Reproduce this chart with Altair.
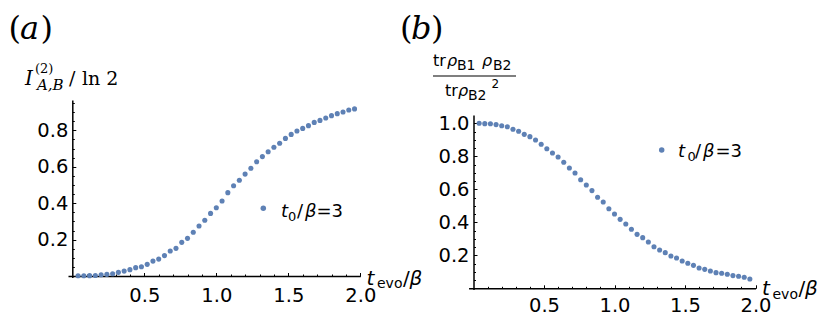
import altair as alt
import pandas as pd

# ---------------- data ----------------
t_evo = [0.04, 0.08, 0.12, 0.16, 0.20, 0.24, 0.28, 0.32, 0.36, 0.40,
         0.44, 0.48, 0.52, 0.56, 0.60, 0.64, 0.68, 0.72, 0.76, 0.80,
         0.84, 0.88, 0.92, 0.96, 1.00, 1.04, 1.08, 1.12, 1.16, 1.20,
         1.24, 1.28, 1.32, 1.36, 1.40, 1.44, 1.48, 1.52, 1.56, 1.60,
         1.64, 1.68, 1.72, 1.76, 1.80, 1.84, 1.88, 1.92, 1.96]

mutual_info = [0.001, 0.001, 0.002, 0.003, 0.007, 0.009, 0.012, 0.020, 0.027, 0.035,
               0.046, 0.051, 0.064, 0.082, 0.093, 0.112, 0.137, 0.152, 0.185, 0.207,
               0.240, 0.275, 0.306, 0.344, 0.375, 0.412, 0.458, 0.496, 0.526, 0.560,
               0.592, 0.628, 0.656, 0.683, 0.707, 0.729, 0.756, 0.778, 0.797, 0.811,
               0.826, 0.844, 0.855, 0.868, 0.881, 0.892, 0.901, 0.912, 0.918]

overlap_ratio = [1.000, 0.998, 0.997, 0.992, 0.985, 0.979, 0.964, 0.952, 0.933, 0.919,
                 0.899, 0.873, 0.846, 0.820, 0.796, 0.764, 0.729, 0.699, 0.658, 0.626,
                 0.592, 0.552, 0.523, 0.482, 0.450, 0.418, 0.390, 0.358, 0.327, 0.307,
                 0.281, 0.252, 0.232, 0.216, 0.196, 0.184, 0.165, 0.152, 0.139, 0.123,
                 0.115, 0.105, 0.095, 0.091, 0.085, 0.077, 0.073, 0.067, 0.056]

x_major = [0.5, 1.0, 1.5, 2.0]
x_minor = [0.1, 0.2, 0.3, 0.4, 0.6, 0.7, 0.8, 0.9, 1.1, 1.2, 1.3, 1.4,
           1.6, 1.7, 1.8, 1.9]
ya_major = [0.2, 0.4, 0.6, 0.8]
ya_minor = [0.05, 0.1, 0.15, 0.25, 0.3, 0.35, 0.45, 0.5, 0.55, 0.65, 0.7,
            0.75, 0.85, 0.9, 0.95]
yb_major = [0.2, 0.4, 0.6, 0.8, 1.0]
yb_minor = [0.05, 0.1, 0.15, 0.25, 0.3, 0.35, 0.45, 0.5, 0.55, 0.65, 0.7,
            0.75, 0.85, 0.9, 0.95]

# ---------------- layout ----------------
W, H = 814, 315
COLOR = "#5E81B5"
SANS = "DejaVu Sans"
SERIF = "DejaVu Serif"
TICK_FS = 19.5

df_a = pd.DataFrame({"t": t_evo, "v": mutual_info})
df_b = pd.DataFrame({"t": t_evo, "v": overlap_ratio})

# panel geometry (inside the chart group)
A = dict(xdom=[-0.03, 2.0], xrng=[60.0, 352.3], ydom=[-0.008, 0.967], yrng=[269.46, 92.0],
         xaxis_y=268.0, yaxis_x=64.3, lab_pad_x=-13.5)
B = dict(xdom=[-0.035, 2.0], xrng=[460.57, 747.5], ydom=[-0.008, 1.05], yrng=[281.62, 107.05],
         xaxis_y=280.3, yaxis_x=465.5, lab_pad_x=-11.5)

MAJ, MIN = 3.5, 2.0


def panel(df, g, ymaj, ymin):
    xs = alt.Scale(domain=g["xdom"], range=g["xrng"], nice=False, zero=False)
    ys = alt.Scale(domain=g["ydom"], range=g["yrng"], nice=False, zero=False)
    xax = alt.Axis(orient="top", offset=-g["xaxis_y"], values=x_major, format=".1f",
                   tickSize=MAJ, tickWidth=1, tickColor="black",
                   domainColor="black", domainWidth=1.5, grid=False, title=None,
                   labelFont=SANS, labelFontSize=TICK_FS, labelColor="black",
                   labelBaseline="top", labelAlign="center", labelPadding=g["lab_pad_x"],
                   labelFlush=False, labelOverlap=False)
    yax = alt.Axis(orient="right", offset=g["yaxis_x"] - W, values=ymaj, format=".1f",
                   tickSize=MAJ, tickWidth=1, tickColor="black",
                   domainColor="black", domainWidth=1.5, grid=False, title=None,
                   labelFont=SANS, labelFontSize=TICK_FS, labelColor="black",
                   labelAlign="right", labelBaseline="middle", labelPadding=-MAJ - 4.5,
                   labelFlush=False, labelOverlap=False)
    pts = alt.Chart(df).mark_circle(size=26, color=COLOR, opacity=1).encode(
        x=alt.X("t:Q", scale=xs, axis=xax),
        y=alt.Y("v:Q", scale=ys, axis=yax),
    )
    xmin = alt.Axis(orient="top", offset=-g["xaxis_y"], values=x_minor, labels=False,
                    domain=False, tickSize=MIN, tickWidth=1, tickColor="black",
                    grid=False, title=None)
    ymin_ax = alt.Axis(orient="right", offset=g["yaxis_x"] - W, values=ymin, labels=False,
                       domain=False, tickSize=MIN, tickWidth=1, tickColor="black",
                       grid=False, title=None)
    minor = alt.Chart(df).mark_circle(size=1, opacity=0).encode(
        x=alt.X("t:Q", scale=xs, axis=xmin),
        y=alt.Y("v:Q", scale=ys, axis=ymin_ax),
    )
    return [pts, minor]


def texts(rows, font, style):
    d = pd.DataFrame([{"s": s, "x": x - 8, "y": y - 8, "fs": fs} for s, x, y, fs in rows])
    return alt.Chart(d).mark_text(align="left", baseline="alphabetic", font=font,
                                  fontStyle=style, color="black").encode(
        x=alt.X("x:Q", scale=None, axis=None),
        y=alt.Y("y:Q", scale=None, axis=None),
        text="s:N",
        size=alt.Size("fs:Q", scale=None, legend=None),
    )


sans_normal = [
    ("0", 288, 220.5, 13), ("/", 297, 216.7, 18), ("=3", 316.5, 216.7, 18),
    ("0", 687.5, 161.0, 13), ("/", 695, 157.3, 18), ("=3", 715.5, 157.3, 18),
    ("evo", 377, 288, 14), ("/", 403, 284.5, 20),
    ("evo", 772.5, 298.5, 14), ("/", 798.5, 294.5, 20),
    ("tr", 433, 66, 16), ("B1", 457, 70, 14), ("B2", 493, 70, 14),
    ("tr", 445, 96, 16), ("B2", 468, 100, 14), ("2", 491.5, 88, 12),
]
sans_italic = [
    ("t", 281, 216.7, 18), ("β", 305, 216.7, 18),
    ("t", 678, 157.3, 18), ("β", 703, 157.3, 18),
    ("t", 366.5, 284.5, 20), ("β", 409.5, 284.5, 20),
    ("t", 762, 294.5, 20), ("β", 805, 294.5, 20),
    ("ρ", 447, 66, 16), ("ρ", 482, 66, 16), ("ρ", 458, 96, 16),
]
serif_normal = [
    ("(", 8.5, 38.5, 32), (")", 40.5, 38.5, 32),
    ("(", 400, 38.5, 32), (")", 431, 38.5, 32),
    ("(2)", 35, 73, 13), ("/", 69, 85, 19), ("ln 2", 82, 85, 19),
]
serif_italic = [
    ("a", 20, 38.5, 32), ("b", 411, 38.5, 32),
    ("I", 25, 85, 20), ("A,B", 37, 90, 15),
]

legend_df = pd.DataFrame({"x": [263.3 - 8, 661.7 - 8], "y": [208.3 - 8, 150.0 - 8]})
legend_dots = alt.Chart(legend_df).mark_circle(size=30, color=COLOR, opacity=1).encode(
    x=alt.X("x:Q", scale=None, axis=None),
    y=alt.Y("y:Q", scale=None, axis=None),
)

frac_rule = alt.Chart(pd.DataFrame({"k": [0]})).mark_rule(color="black", strokeWidth=1.2).encode(
    x=alt.value(433 - 8), x2=alt.value(516 - 8), y=alt.value(76 - 8)
)

layers = (panel(df_a, A, ya_major, ya_minor) + panel(df_b, B, yb_major, yb_minor) +
          [legend_dots, frac_rule,
           texts(sans_normal, SANS, "normal"), texts(sans_italic, SANS, "italic"),
           texts(serif_normal, SERIF, "normal"), texts(serif_italic, SERIF, "italic")])

chart = alt.layer(*layers).resolve_scale(x="independent", y="independent").properties(
    width=W, height=H, padding=0,
    autosize=alt.AutoSizeParams(type="none"),
    background="white",
).configure_view(stroke=None)

chart.save("out.html", embed_options={"renderer": "svg", "actions": False})
